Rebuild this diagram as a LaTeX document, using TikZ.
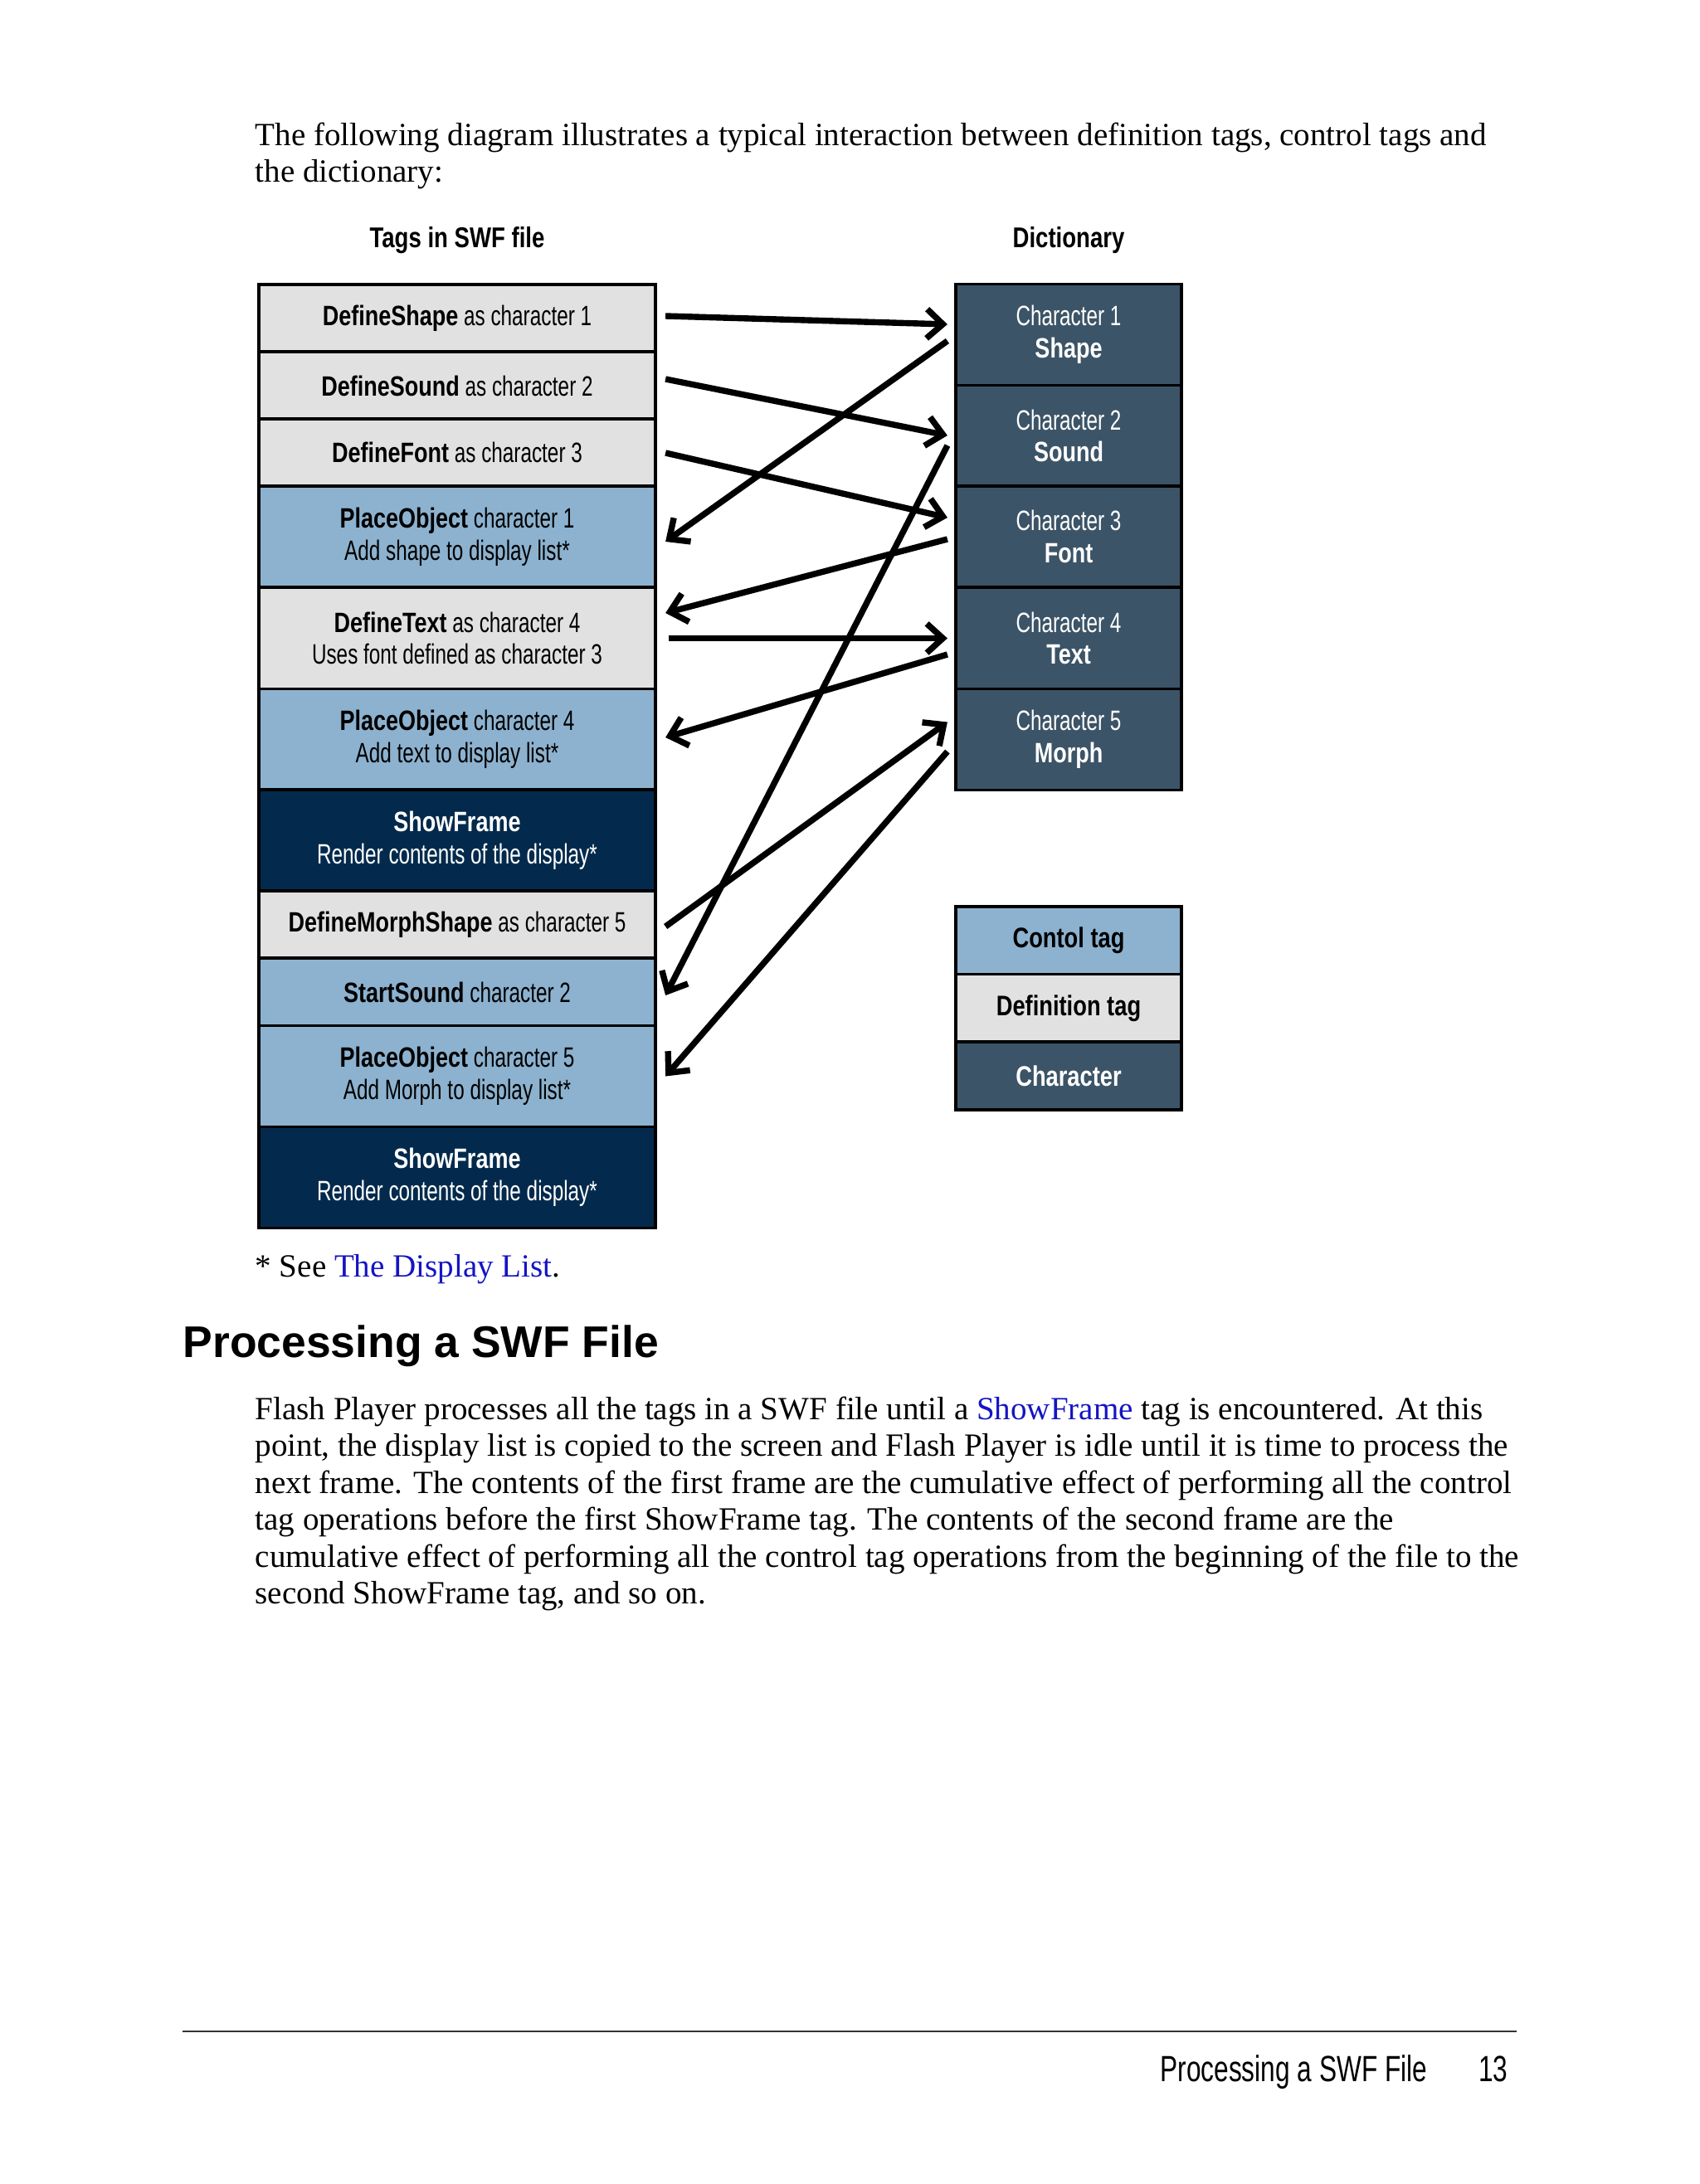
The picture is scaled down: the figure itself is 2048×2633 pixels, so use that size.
\documentclass[tikz,border=0pt]{standalone}
\usepackage{fontspec}
\setmainfont{Liberation Serif}
\newfontfamily\lightcond[FakeStretch=0.72]{Liberation Sans}
\newfontfamily\boldcond[FakeStretch=0.8]{Liberation Sans}
\newfontfamily\headsans{Liberation Sans}
\usetikzlibrary{arrows.meta,calc}
\definecolor{defgray}{HTML}{E1E1E1}
\definecolor{ctrlblue}{HTML}{8CB2CF}
\definecolor{framenavy}{HTML}{032A4C}
\definecolor{charslate}{HTML}{3C5467}
\definecolor{linkblue}{HTML}{1414C4}
\newcommand{\tg}[1]{{\boldcond\bfseries #1}}

\begin{document}
\begin{tikzpicture}[x=0.01cm,y=-0.01cm,
    tag/.style={draw=black,line width=1pt,inner sep=0pt,outer sep=0pt,align=center,
      minimum width=4.78cm,font=\lightcond\fontsize{9.6}{11}\selectfont},
    onerow/.style={tag,minimum height=0.81cm},
    tworow/.style={tag,minimum height=1.22cm},
    defbox/.style={fill=defgray},
    ctrlbox/.style={fill=ctrlblue},
    framebox/.style={fill=framenavy,text=white},
    charbox/.style={tag,fill=charslate,text=white,minimum width=2.72cm,minimum height=1.22cm},
    keybox/.style={tag,minimum width=2.72cm,minimum height=0.82cm,font=\boldcond\bfseries\fontsize{9.7}{11}\selectfont},
    link/.style={line width=2.1pt,-{Straight Barb[length=5.5pt,width=10pt]}},
    prose/.style={inner sep=0pt,align=left,font=\fontsize{11.1}{12.66}\selectfont}]
  \useasboundingbox[fill=white] (0,0) rectangle (2048,2633);

  \node[prose,anchor=north west] (intro) at (307,147)
    {The following diagram illustrates a typical interaction between definition tags, control tags and\\
     the dictionary:};

  \node[font=\boldcond\bfseries\fontsize{9.8}{11}\selectfont] (tagshead) at (551,290) {Tags in SWF file};
  \node[font=\boldcond\bfseries\fontsize{9.8}{11}\selectfont] (dicthead) at (1288,290) {Dictionary};

  % tags in the file
  \node[onerow,defbox] (dshape) at (551,383.5) {\tg{DefineShape} as character 1};
  \node[onerow,defbox] (dsound) at (551,465) {\tg{DefineSound} as character 2};
  \node[onerow,defbox] (dfont) at (551,545.5) {\tg{DefineFont} as character 3};
  \node[tworow,ctrlbox] (pshape) at (551,647) {\tg{PlaceObject} character 1\\Add shape to display list*};
  \node[tworow,defbox] (dtext) at (551,769.5) {\tg{DefineText} as character 4\\Uses font defined as character 3};
  \node[tworow,ctrlbox] (ptext) at (551,891.5) {\tg{PlaceObject} character 4\\Add text to display list*};
  \node[tworow,framebox] (frameA) at (551,1013) {\tg{ShowFrame}\\Render contents of the display*};
  \node[onerow,defbox] (dmorph) at (551,1114.5) {\tg{DefineMorphShape} as character 5};
  \node[onerow,ctrlbox] (ssound) at (551,1196) {\tg{StartSound} character 2};
  \node[tworow,ctrlbox] (pmorph) at (551,1297.5) {\tg{PlaceObject} character 5\\Add Morph to display list*};
  \node[tworow,framebox] (frameB) at (551,1419.5) {\tg{ShowFrame}\\Render contents of the display*};

  % dictionary
  \node[charbox] (cshape) at (1288,403.5) {Character 1\\\tg{Shape}};
  \node[charbox] (csound) at (1288,525.5) {Character 2\\\tg{Sound}};
  \node[charbox] (cfont) at (1288,647) {Character 3\\\tg{Font}};
  \node[charbox] (ctext) at (1288,769.5) {Character 4\\\tg{Text}};
  \node[charbox] (cmorph) at (1288,891.5) {Character 5\\\tg{Morph}};

  % key
  \node[keybox,fill=ctrlblue] (keyctrl) at (1288,1134) {Contol tag};
  \node[keybox,fill=defgray] (keydef) at (1288,1215.5) {Definition tag};
  \node[keybox,fill=charslate,text=white] (keychar) at (1288,1297) {Character};

  \draw[link] ($(dshape.east)+(12,-2.5)$) -- ($(cshape.west)+(-10,-12.5)$);
  \draw[link] ($(dsound.east)+(12,-8)$) -- ($(csound.west)+(-10,-0.5)$);
  \draw[link] ($(dfont.east)+(12,0.5)$) -- ($(cfont.west)+(-10,-23)$);
  \draw[link] ($(cshape.west)+(-10,7.5)$) -- ($(pshape.east)+(12,6)$);
  \draw[link] ($(cfont.west)+(-10,3)$) -- ($(dtext.east)+(12,-30.5)$);
  \draw[link] ($(dtext.east)+(16,0)$) -- ($(ctext.west)+(-10,0)$);
  \draw[link] ($(ctext.west)+(-10,19.5)$) -- ($(ptext.east)+(12,-2.5)$);
  \draw[link] ($(csound.west)+(-10,11.5)$) -- ($(ssound.east)+(12,4)$);
  \draw[link] ($(dmorph.east)+(12,2.5)$) -- ($(cmorph.west)+(-10,-21)$);
  \draw[link] ($(cmorph.west)+(-10,14.5)$) -- ($(pmorph.east)+(12,0)$);

  \node[prose,anchor=base west] (note) at (307,1539)
    {* See \textcolor{linkblue}{The Display List}.};

  \node[inner sep=0pt,anchor=base west,font=\headsans\bfseries\fontsize{15.2}{17}\selectfont] (heading) at (220,1636)
    {Processing a SWF File};

  \node[prose,anchor=north west] (body) at (307,1683)
    {Flash Player processes all the tags in a SWF file until a \textcolor{linkblue}{ShowFrame} tag is encountered. At this\\
     point, the display list is copied to the screen and Flash Player is idle until it is time to process the\\
     next frame. The contents of the first frame are the cumulative effect of performing all the control\\
     tag operations before the first ShowFrame tag. The contents of the second frame are the\\
     cumulative effect of performing all the control tag operations from the beginning of the file to the\\
     second ShowFrame tag, and so on.};

  \draw[line width=0.6pt,black!80] (220,2449) -- (1828,2449);
  \node[inner sep=0pt,anchor=base east,font=\lightcond\fontsize{12.5}{14}\selectfont] (footer) at (1721,2509) {Processing a SWF File};
  \node[inner sep=0pt,anchor=base east,font=\lightcond\fontsize{12.5}{14}\selectfont] (pagenum) at (1818,2509) {13};
\end{tikzpicture}
\end{document}
